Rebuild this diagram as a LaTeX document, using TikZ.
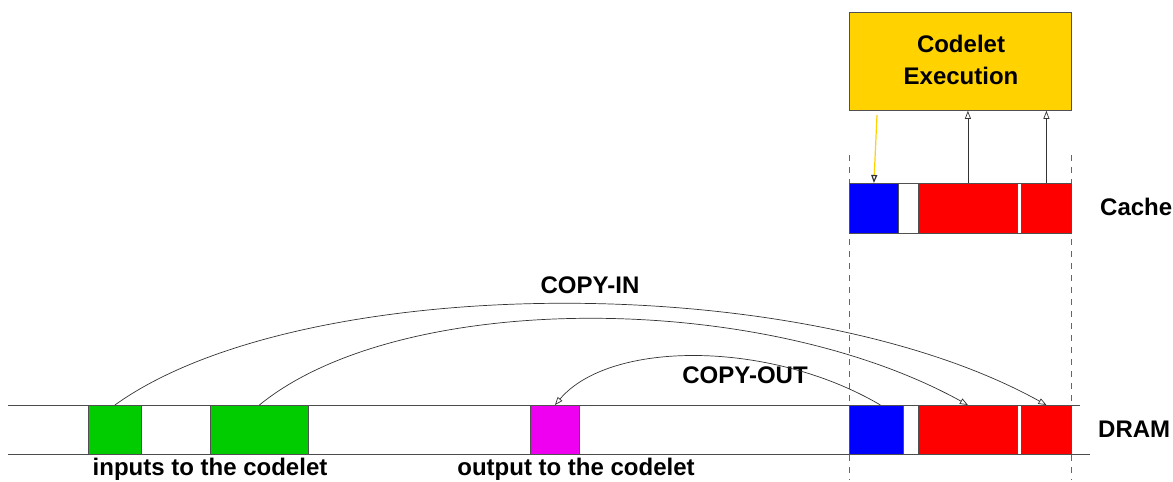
\documentclass[tikz,border=0pt]{standalone}
\usepackage{fontspec}
\setmainfont{Liberation Sans}
\usetikzlibrary{arrows.meta}
\definecolor{gold}{HTML}{FFD200}
\definecolor{grn}{HTML}{00CC00}
\definecolor{mag}{HTML}{F000F0}
\definecolor{edge}{HTML}{505050}
\tikzset{
  blk/.style={draw=edge, line width=0.8pt, inner sep=0pt, anchor=north west, minimum height=#1},
  blk/.default=49pt,
  lbl/.style={font=\bfseries\fontsize{24}{28}\selectfont, inner sep=0pt},
  conn/.style={draw=black!80, line width=0.7pt, -{Triangle[open, length=8pt, width=6pt]}},
  guide/.style={draw=black!60, line width=0.7pt, dash pattern=on 6pt off 6pt},
  rail/.style={draw=black!70, line width=0.8pt}
}
\begin{document}
\begin{tikzpicture}[x=1pt, y=-1pt]
\useasboundingbox (0,0) rectangle (1173,482);
% dashed guides
\coordinate (g1t) at (849,155); \coordinate (g1b) at (849,480);
\coordinate (g2t) at (1071,155); \coordinate (g2b) at (1071,480);
\draw[guide] (g1t) -- (g1b);
\draw[guide] (g2t) -- (g2b);
% DRAM rails
\coordinate (r1a) at (8,405); \coordinate (r1b) at (1080,405);
\coordinate (r2a) at (8,454); \coordinate (r2b) at (1090,454);
\draw[rail] (r1a) -- (r1b);
\draw[rail] (r2a) -- (r2b);
% execution box
\node[draw=edge, line width=0.8pt, fill=gold, anchor=north west, minimum width=222pt, minimum height=98pt, inner sep=0pt] (exec) at (849,12) {};
\node[lbl, align=center, font=\bfseries\fontsize{24}{32}\selectfont] (exectext) at (961,60) {Codelet\\Execution};
% cache
\node[blk, fill=white, minimum width=222pt, minimum height=50pt] (cbar) at (849,183) {};
\node[blk, fill=blue, minimum width=49pt, minimum height=50pt] (cblue) at (849,183) {};
\node[blk, fill=red, minimum width=99pt, minimum height=50pt] (cred1) at (918,183) {};
\node[blk, fill=red, minimum width=50pt, minimum height=50pt] (cred2) at (1021,183) {};
\node[lbl, anchor=west] (cache) at (1100,207) {Cache};
% DRAM blocks
\node[blk, fill=grn, minimum width=53pt] (g1) at (88,405) {};
\node[blk, fill=grn, minimum width=98pt] (g2) at (210,405) {};
\node[blk, fill=mag, minimum width=49pt] (m1) at (530,405) {};
\node[blk, fill=blue, minimum width=54pt] (dblue) at (849,405) {};
\node[blk, fill=red, minimum width=99pt] (dred1) at (918,405) {};
\node[blk, fill=red, minimum width=50pt] (dred2) at (1021,405) {};
\node[lbl, anchor=west] (dram) at (1098,429) {DRAM};
% labels
\node[lbl] (inlbl) at (210,469) {inputs to the codelet};
\node[lbl] (outlbl) at (576,469) {output to the codelet};
\node[lbl] (cilbl) at (590,285) {COPY-IN};
\node[lbl] (colbl) at (745,375) {COPY-OUT};
% cache <-> execution
\coordinate (ys) at (877,115);
\draw[conn, draw=gold, line width=1.2pt, -{Triangle[open, length=8pt, width=6pt, color=black!80]}] (ys) -- (cblue.north);
\draw[conn] (cred1.north) -- (cred1.north |- exec.south);
\draw[conn] (cred2.north) -- (cred2.north |- exec.south);
% copy-in / copy-out curves
\draw[conn] (g1.north) .. controls (300,272) and (800,268) .. (dred2.north);
\draw[conn] (g2.north) .. controls (400,290) and (760,290) .. (dred1.north);
\draw[conn] ([xshift=4pt]dblue.north) .. controls (770,340) and (610,340) .. (m1.north);
\end{tikzpicture}
\end{document}
